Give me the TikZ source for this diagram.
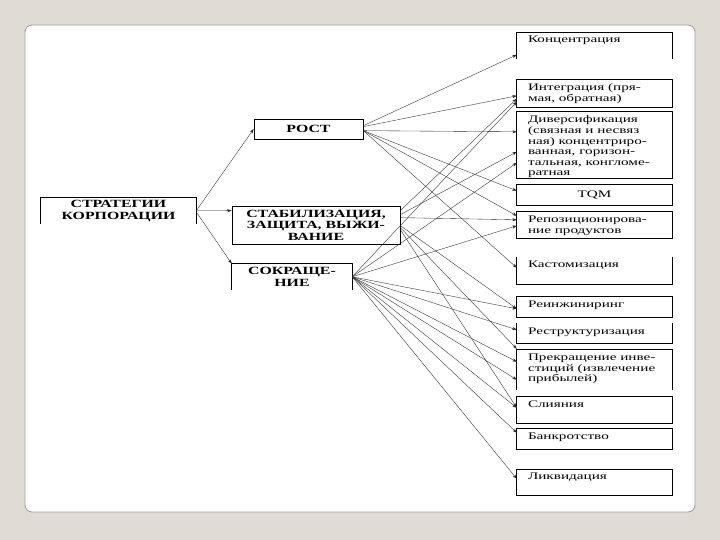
\documentclass[tikz,border=0pt]{standalone}
\usepackage{fontspec}
\setmainfont{Liberation Serif}
\newfontfamily\rfont[FakeStretch=1.52]{Liberation Serif}
\newfontfamily\hfont[FakeStretch=1.44]{Liberation Serif}
\usetikzlibrary{arrows.meta,calc}
\definecolor{bgc}{HTML}{E0DCD3}
\definecolor{framegray}{HTML}{9C9C9C}
\begin{document}
\begin{tikzpicture}[x=1pt,y=-1pt,
  fr/.style={line width=0.7pt, draw=black},
  ar/.style={draw=black!85, line width=0.35pt, -{Stealth[length=4.5pt,width=3pt]}},
  hd/.style={font=\hfont\bfseries\fontsize{11}{11.5}\selectfont, align=center, inner sep=0pt},
  rbox/.style={draw=none, inner sep=0pt, minimum width=155pt},
  rtx/.style={font=\rfont\fontsize{10}{10.6}\selectfont, align=left, inner sep=0pt, anchor=north west},
]
\fill[bgc] (0,0) rectangle (720,540);
\useasboundingbox (0,0) rectangle (720,540);
\draw[draw=framegray, fill=white, rounded corners=7pt, line width=0.8pt] (25,25) rectangle (695,512);

% left boxes
\node[hd, minimum width=155pt, minimum height=26pt] (strat) at (118.5,211) {СТРАТЕГИИ\\КОРПОРАЦИИ};
\node[hd, draw=black, line width=0.7pt, minimum width=109pt, minimum height=20pt] (rost) at (308.5,129) {РОСТ};
\node[hd, draw=black, line width=0.7pt, minimum width=168pt, minimum height=38pt] (stab) at (316,225) {СТАБИЛИЗАЦИЯ,\\ЗАЩИТА, ВЫЖИ-\\ВАНИЕ};
\node[hd, minimum width=120pt, minimum height=26pt] (sokr) at (292,277) {СОКРАЩЕ-\\НИЕ};
\draw[fr] (strat.south west) |- (strat.north east) -- (strat.south east);
\draw[fr] (sokr.south west) |- (sokr.north east) -- (sokr.south east);

% right boxes
\node[rbox, minimum height=26pt] (konc) at (594.5,46) {};
\node[rbox, minimum height=27pt] (integr) at (594.5,93.5) {};
\node[rbox, minimum height=66pt] (divers) at (594.5,145) {};
\node[rbox, minimum height=20pt] (tqm) at (594.5,195) {};
\node[rbox, minimum height=26pt] (repoz) at (594.5,225) {};
\node[rbox, minimum height=27pt] (kastom) at (594.5,270.5) {};
\node[rbox, minimum height=20pt] (reinzh) at (594.5,307) {};
\node[rbox, minimum height=20pt] (restr) at (594.5,333) {};
\node[rbox, minimum height=40pt] (prekr) at (594.5,370) {};
\node[rbox, minimum height=26pt] (sliyan) at (594.5,410) {};
\node[rbox, minimum height=20pt] (bankr) at (594.5,439) {};
\node[rbox, minimum height=25pt] (likv) at (594.5,482.5) {};

\draw[fr] (konc.south west) |- (konc.north east) -- (konc.south east);
\draw[fr] (integr.north west) rectangle (integr.south east);
\draw[fr] (divers.north west) rectangle (divers.south east);
\draw[fr] (tqm.north west) rectangle (tqm.south east);
\draw[fr] (repoz.north west) rectangle (repoz.south east);
\draw[fr] (kastom.north west) |- (kastom.south east) -- (kastom.north east);
\draw[fr] (reinzh.north west) rectangle (reinzh.south east);
\draw[fr] (restr.north west) |- (restr.south east) -- (restr.north east);
\draw[fr] (prekr.south west) |- (prekr.north east) -- (prekr.south east);
\draw[fr] (sliyan.north west) rectangle (sliyan.south east);
\draw[fr] (bankr.north west) rectangle (bankr.south east);
\draw[fr] (likv.north west) rectangle (likv.south east);

% right texts
\node[rtx] (konct) at ($(konc.north west)+(11,3)$) {Концентрация};
\node[rtx] (integrt) at ($(integr.north west)+(11,4)$) {Интеграция (пря-\\мая, обратная)};
\node[rtx] (diverst) at ($(divers.north west)+(11,4)$) {Диверсификация\\(связная и несвяз\\ная) концентриро-\\ванная, горизон-\\тальная, конгломе-\\ратная};
\node[font=\rfont\fontsize{10}{10.6}\selectfont, inner sep=0pt] (tqmt) at (tqm.center) {TQM};
\node[rtx] (repozt) at ($(repoz.north west)+(11,4)$) {Репозиционирова-\\ние продуктов};
\node[rtx] (kastomt) at ($(kastom.north west)+(11,4)$) {Кастомизация};
\node[rtx] (reinzht) at ($(reinzh.north west)+(11,4)$) {Реинжиниринг};
\node[rtx] (restrt) at ($(restr.north west)+(11,5)$) {Реструктуризация};
\node[rtx] (prekrt) at ($(prekr.north west)+(11,4)$) {Прекращение инве-\\стиций (извлечение\\прибылей)};
\node[rtx] (sliyant) at ($(sliyan.north west)+(11,4)$) {Слияния};
\node[rtx] (bankrt) at ($(bankr.north west)+(11,4)$) {Банкротство};
\node[rtx] (likvt) at ($(likv.north west)+(11,3)$) {Ликвидация};

% connectors from strategies
\draw[ar] ($(strat.north east)+(0,13)$) -- (rost.west);
\draw[ar] ($(strat.north east)+(0,13)$) -- ($(stab.north west)+(0,5)$);
\draw[ar] ($(strat.north east)+(0,14)$) -- (sokr.north west);

% from growth
\draw[ar] ($(rost.north east)+(0,7)$) -- ($(konc.north west)+(0,22)$);
\draw[ar] ($(rost.north east)+(0,8)$) -- ($(integr.north west)+(0,16)$);
\draw[ar] ($(rost.north east)+(0,12)$) -- ($(divers.north west)+(0,20)$);
\draw[ar] ($(rost.north east)+(0,12)$) -- ($(tqm.north west)+(0,6)$);
\draw[ar] ($(rost.north east)+(0,12)$) -- ($(repoz.north west)+(0,4)$);
\draw[ar] ($(rost.north east)+(0,12)$) -- ($(kastom.north west)+(0,11)$);

% from stabilisation
\draw[ar] ($(stab.north east)+(0,5)$) -- ($(integr.north west)+(0,19)$);
\draw[ar] ($(stab.north east)+(0,9)$) -- ($(divers.north west)+(0,40)$);
\draw[ar] ($(stab.north east)+(0,12)$) -- ($(repoz.north west)+(0,8)$);
\draw[ar] ($(stab.north east)+(0,20)$) -- ($(reinzh.north west)+(0,12)$);
\draw[ar] ($(stab.north east)+(0,22)$) -- ($(prekr.north west)+(0,-1)$);
\draw[ar] ($(stab.north east)+(0,24)$) -- ($(sliyan.north west)+(0,11)$);

% from reduction
\draw[ar] ($(sokr.north east)+(0,13)$) -- ($(integr.north west)+(0,22)$);
\draw[ar] ($(sokr.north east)+(0,13)$) -- ($(divers.north west)+(0,51)$);
\draw[ar] ($(sokr.north east)+(0,13)$) -- ($(repoz.north west)+(0,14)$);
\draw[ar] ($(sokr.north east)+(0,13)$) -- ($(reinzh.north west)+(0,12)$);
\draw[ar] ($(sokr.north east)+(0,13)$) -- ($(restr.north west)+(0,7)$);
\draw[ar] ($(sokr.north east)+(0,13)$) -- ($(prekr.north west)+(0,12)$);
\draw[ar] ($(sokr.north east)+(0,13)$) -- ($(prekr.north west)+(0,30)$);
\draw[ar] ($(sokr.north east)+(0,13)$) -- ($(sliyan.north west)+(0,11)$);
\draw[ar] ($(sokr.north east)+(0,13)$) -- ($(bankr.north west)+(0,4)$);
\draw[ar] ($(sokr.north east)+(0,13)$) -- ($(likv.north west)+(0,9)$);
\end{tikzpicture}
\end{document}
